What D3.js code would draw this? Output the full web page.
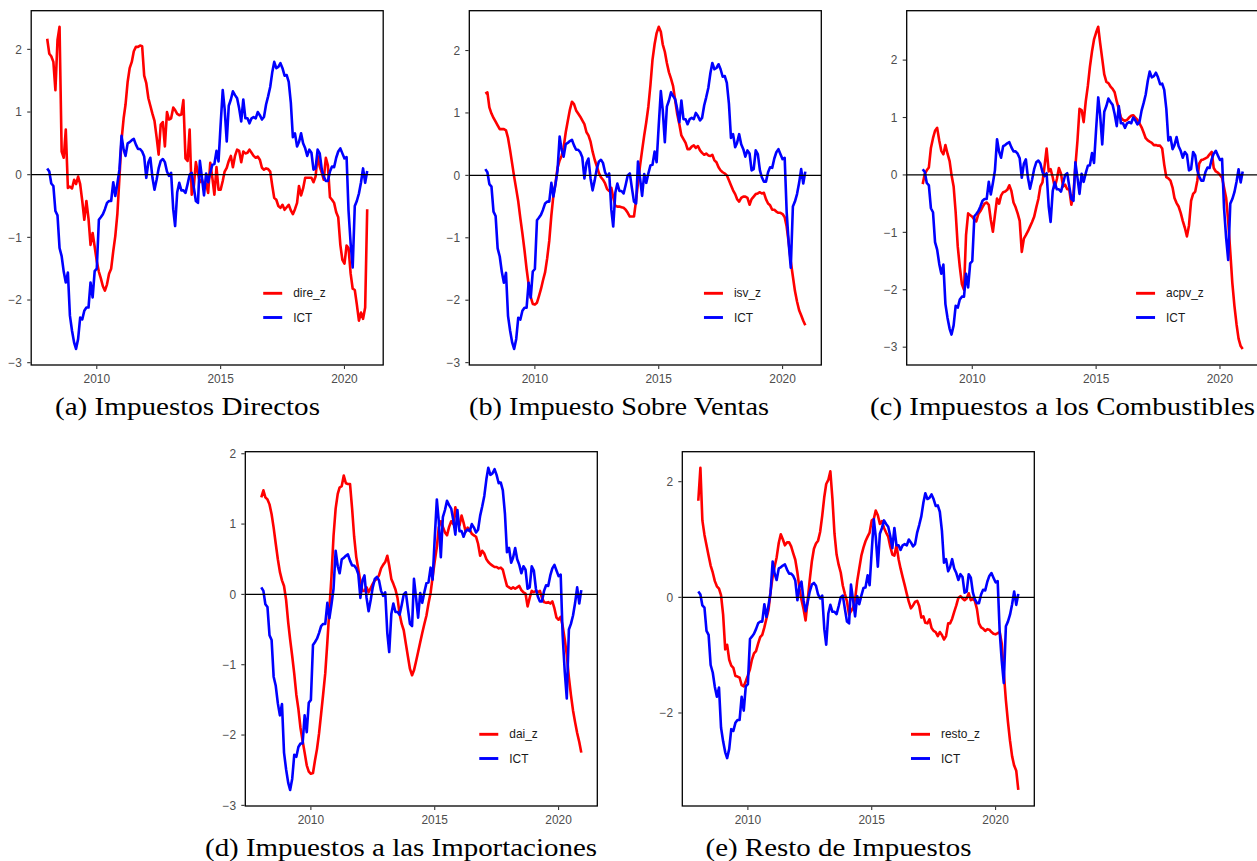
<!DOCTYPE html>
<html>
<head>
<meta charset="utf-8">
<script src="https://cdn.jsdelivr.net/npm/d3@7"></script>
<style>
  body { margin: 0; background: #ffffff; }
  svg { display: block; }
</style>
</head>
<body>
<svg id="fig" width="1257" height="861"></svg>
<script>
// Monthly observations, January 2008 – December 2020
const months = d3.timeMonth.range(new Date(2008, 0, 1), new Date(2021, 0, 1));

// Indicador Cíclico Tributario (shared by every panel)
const ICT = [
   0.10,  0.05, -0.14, -0.18, -0.58, -0.65, -1.17, -1.30, -1.55, -1.72,
  -1.56, -2.25, -2.49, -2.68, -2.78, -2.62, -2.28, -2.31, -2.17, -2.12,
  -2.12, -1.72, -1.96, -1.54, -1.50, -0.72, -0.68, -0.63, -0.55, -0.45,
  -0.42, -0.42, -0.12, -0.34, -0.14,  0.08,  0.62,  0.40,  0.30,  0.50,
   0.52,  0.55,  0.57,  0.48,  0.41,  0.41,  0.37,  0.29, -0.05,  0.20,
   0.27, -0.05, -0.24, -0.08,  0.10,  0.22,  0.25,  0.20,  0.05, -0.02,
   0.03, -0.55, -0.82, -0.28, -0.13, -0.25, -0.25, -0.29, -0.15,  0.00,
   0.03, -0.20, -0.42, -0.45,  0.22, -0.05, -0.33,  0.02, -0.12,  0.03,
   0.16,  0.17,  0.38,  0.21,  0.80,  1.35,  1.05,  0.53,  1.10,  1.20,
   1.33,  1.27,  1.22,  1.06,  0.85,  1.20,  0.90,  0.90,  0.82,  0.90,
   0.92,  0.90,  1.00,  0.95,  0.88,  0.92,  1.12,  1.25,  1.40,  1.64,
   1.80,  1.70,  1.72,  1.78,  1.70,  1.58,  1.59,  1.48,  1.15,  0.60,
   0.66,  0.45,  0.52,  0.66,  0.50,  0.42,  0.30,  0.40,  0.35,  0.08,
   0.10,  0.40,  0.34,  0.08, -0.03, -0.10, -0.10,  0.05,  0.13,  0.12,
   0.27,  0.37,  0.42,  0.34,  0.26,  0.28, -0.58, -1.10, -1.48, -0.50,
  -0.42, -0.30, -0.12,  0.10, -0.13,  0.06
];

// Impuestos Directos
const dire_z = [
   2.17,  1.93,  1.89,  1.80,  1.35,  2.15,  2.36,  0.37,  0.27,  0.72,
  -0.21, -0.19, -0.22, -0.08, -0.15, -0.03, -0.15, -0.42, -0.72, -0.42,
  -0.70, -1.12, -0.93, -1.15, -1.38, -1.55, -1.65, -1.78, -1.85, -1.75,
  -1.58, -1.50, -1.22, -0.98, -0.62, -0.05,  0.55,  0.90,  1.12,  1.48,
   1.70,  1.80,  1.97,  2.04,  2.04,  2.06,  2.05,  1.58,  1.46,  1.22,
   1.10,  0.97,  0.86,  0.60,  0.32,  0.80,  0.84,  0.45,  1.00,  0.88,
   0.90,  1.07,  1.03,  0.97,  0.95,  0.96,  1.19,  0.26,  0.22,  0.72,
  -0.32, -0.20,  0.20,  0.02, -0.12, -0.08, -0.18, -0.14, -0.29,  0.19,
  -0.05, -0.32,  0.12, -0.24, -0.24, -0.10,  0.05,  0.11,  0.22,  0.30,
   0.12,  0.30,  0.40,  0.38,  0.20,  0.37,  0.34,  0.35,  0.40,  0.35,
   0.30,  0.27,  0.29,  0.24,  0.11,  0.08,  0.10,  0.09,  0.05, -0.18,
  -0.37, -0.40, -0.50, -0.53, -0.48, -0.56, -0.52, -0.48, -0.57, -0.63,
  -0.55, -0.45, -0.18, -0.33, -0.22, -0.05, -0.05, -0.05, -0.05, -0.12,
  -0.03,  0.30,  0.13,  0.03, -0.08,  0.27,  0.15, -0.36, -0.40, -0.45,
  -0.60, -0.68, -1.12, -1.36, -1.42, -1.13, -1.17, -1.58, -1.82, -1.84,
  -2.07, -2.33, -2.20, -2.30, -2.12, -0.55
];

// Impuesto Sobre Ventas
const isv_z = [
   1.31,  1.33,  1.09,  0.99,  0.92,  0.86,  0.80,  0.74,  0.74,  0.74,
   0.72,  0.60,  0.40,  0.18, -0.02, -0.22, -0.42, -0.69, -0.93, -1.20,
  -1.50, -1.75, -1.95, -2.06, -2.07, -2.04, -1.94, -1.82, -1.68, -1.55,
  -1.33, -1.05, -0.64, -0.32, -0.13,  0.12,  0.24,  0.32,  0.45,  0.69,
   0.87,  1.05,  1.18,  1.14,  1.04,  0.99,  0.94,  0.88,  0.82,  0.69,
   0.64,  0.54,  0.38,  0.25,  0.15,  0.04, -0.03, -0.07, -0.13, -0.22,
  -0.25, -0.20, -0.35, -0.49, -0.50, -0.50, -0.51, -0.52, -0.55, -0.60,
  -0.66, -0.66, -0.66, -0.40, -0.12,  0.16,  0.40,  0.64,  0.85,  1.10,
   1.45,  1.85,  2.10,  2.28,  2.38,  2.30,  2.10,  1.98,  1.80,  1.65,
   1.55,  1.43,  1.20,  0.98,  0.82,  0.64,  0.58,  0.52,  0.42,  0.42,
   0.46,  0.48,  0.44,  0.47,  0.40,  0.36,  0.33,  0.35,  0.32,  0.31,
   0.33,  0.24,  0.21,  0.13,  0.08,  0.05,  0.03,  0.00, -0.08, -0.16,
  -0.24, -0.30, -0.38, -0.42, -0.36, -0.34, -0.34, -0.36, -0.47, -0.38,
  -0.34, -0.30, -0.29, -0.27, -0.29, -0.28, -0.38, -0.45, -0.48, -0.55,
  -0.55, -0.58, -0.60, -0.60, -0.62, -0.67, -0.82, -1.08, -1.38, -1.62,
  -1.85, -2.02, -2.16, -2.24, -2.33, -2.40
];

// Impuestos a los Combustibles
const acpv_z = [
  -0.16,  0.02,  0.08,  0.13,  0.47,  0.64,  0.77,  0.82,  0.60,  0.42,
   0.36,  0.52,  0.37,  0.24,  0.00, -0.20, -0.65, -1.25, -1.60, -1.90,
  -2.00, -1.05, -0.67, -0.70, -0.73, -0.78, -0.81, -0.68, -0.63, -0.56,
  -0.50, -0.48, -0.52, -0.78, -0.99, -0.70, -0.41, -0.50, -0.36, -0.30,
  -0.29, -0.26, -0.18, -0.28, -0.48, -0.56, -0.67, -0.80, -1.34, -1.11,
  -1.05, -0.98, -0.90, -0.82, -0.73, -0.57, -0.42, -0.20, -0.13,  0.15,
   0.46,  0.06,  0.10, -0.04, -0.22, -0.07,  0.12,  0.02, -0.20, -0.17,
  -0.25, -0.25, -0.52, -0.33,  0.15,  0.60,  1.15,  1.13,  0.92,  1.28,
   1.55,  1.88,  2.15,  2.36,  2.48,  2.58,  2.30,  2.02,  1.75,  1.62,
   1.60,  1.54,  1.50,  1.44,  1.28,  1.15,  1.00,  0.96,  0.94,  0.96,
   1.00,  1.03,  1.04,  1.00,  0.96,  0.90,  0.83,  0.74,  0.64,  0.60,
   0.58,  0.56,  0.52,  0.52,  0.51,  0.51,  0.46,  0.18, -0.04, -0.06,
  -0.10, -0.22, -0.40, -0.49, -0.55, -0.66, -0.80, -0.92, -1.07, -0.88,
  -0.45, -0.33, -0.29, -0.10,  0.20,  0.26,  0.27,  0.29,  0.31,  0.36,
   0.40,  0.12,  0.06,  0.04,  0.00, -0.05, -0.22, -0.40, -0.80, -1.34,
  -1.88, -2.28, -2.60, -2.85, -2.98, -3.03
];

// Impuestos a las Importaciones
const dai_z = [
   1.38,  1.48,  1.38,  1.35,  1.28,  1.14,  0.95,  0.72,  0.50,  0.32,
   0.20,  0.12, -0.08, -0.40, -0.64, -0.88, -1.13, -1.43, -1.63, -1.90,
  -2.08, -2.25, -2.43, -2.52, -2.55, -2.54, -2.37, -2.20, -1.98, -1.70,
  -1.42, -1.12, -0.68, -0.21,  0.26,  0.83,  1.22,  1.43,  1.52,  1.54,
   1.69,  1.58,  1.57,  1.57,  1.22,  0.82,  0.53,  0.36,  0.18,  0.05,
   0.05,  0.10,  0.03,  0.09,  0.15,  0.20,  0.22,  0.27,  0.37,  0.42,
   0.46,  0.55,  0.41,  0.22,  0.15,  0.07, -0.05, -0.28, -0.42, -0.51,
  -0.70, -0.88, -1.06, -1.15, -1.08, -0.95, -0.82, -0.68, -0.55, -0.42,
  -0.30, -0.13,  0.02,  0.25,  0.47,  0.67,  0.95,  1.04,  0.96,  0.88,
   0.84,  0.96,  1.04,  1.00,  1.24,  1.05,  0.98,  1.12,  1.02,  0.89,
   0.95,  0.92,  0.86,  0.84,  0.82,  0.72,  0.55,  0.62,  0.58,  0.50,
   0.46,  0.43,  0.41,  0.39,  0.39,  0.37,  0.38,  0.35,  0.23,  0.12,
   0.10,  0.08,  0.10,  0.08,  0.10,  0.12,  0.06,  0.03,  0.01, -0.17,
  -0.05,  0.05,  0.03,  0.05,  0.03,  0.05, -0.05, -0.11, -0.12, -0.11,
  -0.13, -0.10, -0.20, -0.33, -0.36, -0.32, -0.45, -0.64, -0.86, -1.18,
  -1.43, -1.65, -1.82, -1.97, -2.10, -2.25
];

// Resto de Impuestos
const resto_z = [
   1.67,  2.24,  1.33,  1.08,  0.90,  0.72,  0.55,  0.43,  0.28,  0.19,
   0.15,  0.04, -0.30, -0.90, -0.82, -1.08, -1.18, -1.22, -1.36, -1.37,
  -1.39, -1.52, -1.54, -1.45, -1.35, -1.24, -1.08, -0.97, -0.93, -0.80,
  -0.69, -0.65, -0.52, -0.37, -0.22,  0.09,  0.36,  0.54,  0.69,  0.94,
   1.09,  1.00,  0.90,  0.95,  0.95,  0.88,  0.76,  0.65,  0.43,  0.15,
  -0.04, -0.20, -0.40, -0.05,  0.30,  0.62,  0.84,  0.93,  0.98,  1.13,
   1.41,  1.74,  1.96,  2.03,  2.18,  1.70,  1.10,  0.74,  0.56,  0.43,
   0.20,  0.06, -0.07, -0.30, -0.24, -0.18, -0.03,  0.28,  0.50,  0.72,
   0.86,  0.97,  1.05,  1.12,  1.33,  1.36,  1.50,  1.42,  1.27,  1.32,
   1.20,  1.12,  1.05,  0.88,  0.74,  0.72,  0.90,  0.66,  0.50,  0.35,
   0.21,  0.06, -0.08, -0.19, -0.14, -0.08, -0.06, -0.15, -0.35, -0.33,
  -0.44, -0.45, -0.38, -0.53, -0.58, -0.60, -0.67, -0.60, -0.65, -0.73,
  -0.67, -0.45, -0.45, -0.37, -0.25, -0.14, -0.01,  0.02, -0.02, -0.05,
  -0.02,  0.07, -0.05, -0.03, -0.06, -0.20, -0.45, -0.52, -0.54, -0.58,
  -0.55, -0.56, -0.60, -0.63, -0.64, -0.62, -0.60, -0.80, -1.30, -1.78,
  -2.15, -2.48, -2.75, -2.91, -3.00, -3.33
];

// Axis ticks
const yearTicks = [2010, 2015, 2020];
const yTicksUnit = [-3, -2, -1, 0, 1, 2];
const yTicksTwo = [-2, 0, 2];

// Panel layout: plot-area origin and caption placement
const PW = 352, PH = 354.3;
const panels = [
  { label: "dire_z",  values: dire_z,  yTicks: yTicksUnit, caption: "(a) Impuestos Directos",            x0: 31.2,  y0: 10.7,  capX: 187.5,  capY: 415, capW: 265 },
  { label: "isv_z",   values: isv_z,   yTicks: yTicksUnit, caption: "(b) Impuesto Sobre Ventas",         x0: 469.3, y0: 10.7,  capX: 619,    capY: 415, capW: 300 },
  { label: "acpv_z",  values: acpv_z,  yTicks: yTicksUnit, caption: "(c) Impuestos a los Combustibles",  x0: 906.7, y0: 10.7,  capX: 1062.5, capY: 415, capW: 385 },
  { label: "dai_z",   values: dai_z,   yTicks: yTicksUnit, caption: "(d) Impuestos a las Importaciones", x0: 245.3, y0: 451.7, capX: 401,    capY: 856, capW: 392 },
  { label: "resto_z", values: resto_z, yTicks: yTicksTwo,  caption: "(e) Resto de Impuestos",            x0: 682.3, y0: 451.7, capX: 838.5,  capY: 856, capW: 266 }
];

const RED = "#FF0000", BLUE = "#0000FF";
const AXIS_TEXT = "#4D4D4D";
const SANS = "'Liberation Sans', Arial, Helvetica, sans-serif";
const SERIF = "'Liberation Serif', 'Times New Roman', serif";

// 5 % padding on each side of a continuous range
function expand([lo, hi], f = 0.05) {
  const d = (hi - lo) * f;
  return [lo - d, hi + d];
}

const svg = d3.select("#fig");
const fmt = d3.format("d");

const tRange = expand(d3.extent(months, d => +d));

panels.forEach(p => {
  const g = svg.append("g").attr("transform", `translate(${p.x0},${p.y0})`);

  const x = d3.scaleTime()
    .domain(tRange.map(v => new Date(v)))
    .range([0, PW]);
  const y = d3.scaleLinear()
    .domain(expand(d3.extent(p.values.concat(ICT))))
    .range([PH, 0]);

  const line = d3.line()
    .x((d, i) => x(months[i]))
    .y(d => y(d))
    .curve(d3.curveLinear);

  // series
  g.append("path")
    .attr("d", line(p.values))
    .attr("fill", "none")
    .attr("stroke", RED)
    .attr("stroke-width", 2.6)
    .attr("stroke-linejoin", "round");
  g.append("path")
    .attr("d", line(ICT))
    .attr("fill", "none")
    .attr("stroke", BLUE)
    .attr("stroke-width", 2.6)
    .attr("stroke-linejoin", "round");

  // zero reference line
  g.append("line")
    .attr("x1", 0).attr("x2", PW)
    .attr("y1", y(0)).attr("y2", y(0))
    .attr("stroke", "#000").attr("stroke-width", 1.2);

  // panel frame
  g.append("rect")
    .attr("x", 0).attr("y", 0).attr("width", PW).attr("height", PH)
    .attr("fill", "none").attr("stroke", "#000").attr("stroke-width", 1.3);

  // x axis
  const xa = g.append("g").attr("transform", `translate(0,${PH})`);
  yearTicks.forEach(yr => {
    const px = x(new Date(yr, 0, 1));
    xa.append("line").attr("x1", px).attr("x2", px).attr("y1", 0.6).attr("y2", 4)
      .attr("stroke", "#333").attr("stroke-width", 1.1);
    xa.append("text").attr("x", px).attr("y", 18.4)
      .attr("text-anchor", "middle")
      .attr("font-family", SANS).attr("font-size", 11.9)
      .attr("fill", AXIS_TEXT).text(yr);
  });

  // y axis
  const ya = g.append("g");
  p.yTicks.forEach(v => {
    const py = y(v);
    ya.append("line").attr("x1", -4).attr("x2", -0.6).attr("y1", py).attr("y2", py)
      .attr("stroke", "#333").attr("stroke-width", 1.1);
    ya.append("text").attr("x", -9.3).attr("y", py + 4.3)
      .attr("text-anchor", "end")
      .attr("font-family", SANS).attr("font-size", 11.9)
      .attr("fill", AXIS_TEXT).text(fmt(v));
  });

  // legend, centred horizontally inside the plot area
  const items = [{ name: p.label, color: RED }, { name: "ICT", color: BLUE }];
  const lg = g.append("g");
  const texts = items.map((it, i) => lg.append("text")
    .attr("font-family", SANS).attr("font-size", 11.9)
    .attr("fill", "#1A1A1A").text(it.name));
  const tw = d3.max(texts, t => t.node().getComputedTextLength());
  const keyLen = 19, gap = 11;
  const lw = keyLen + gap + tw;
  const lx = 263.2 - lw / 2;
  items.forEach((it, i) => {
    const ky = PH - 71.7 + i * 24.2;
    lg.append("line")
      .attr("x1", lx).attr("x2", lx + keyLen)
      .attr("y1", ky).attr("y2", ky)
      .attr("stroke", it.color).attr("stroke-width", 2.9);
    texts[i].attr("x", lx + keyLen + gap).attr("y", ky + 4.2);
  });

  // sub-figure caption
  svg.append("text")
    .attr("x", p.capX).attr("y", p.capY)
    .attr("text-anchor", "middle")
    .attr("font-family", SERIF).attr("font-size", 25)
    .attr("textLength", p.capW).attr("lengthAdjust", "spacingAndGlyphs")
    .attr("fill", "#000").text(p.caption);
});
</script>
</body>
</html>
